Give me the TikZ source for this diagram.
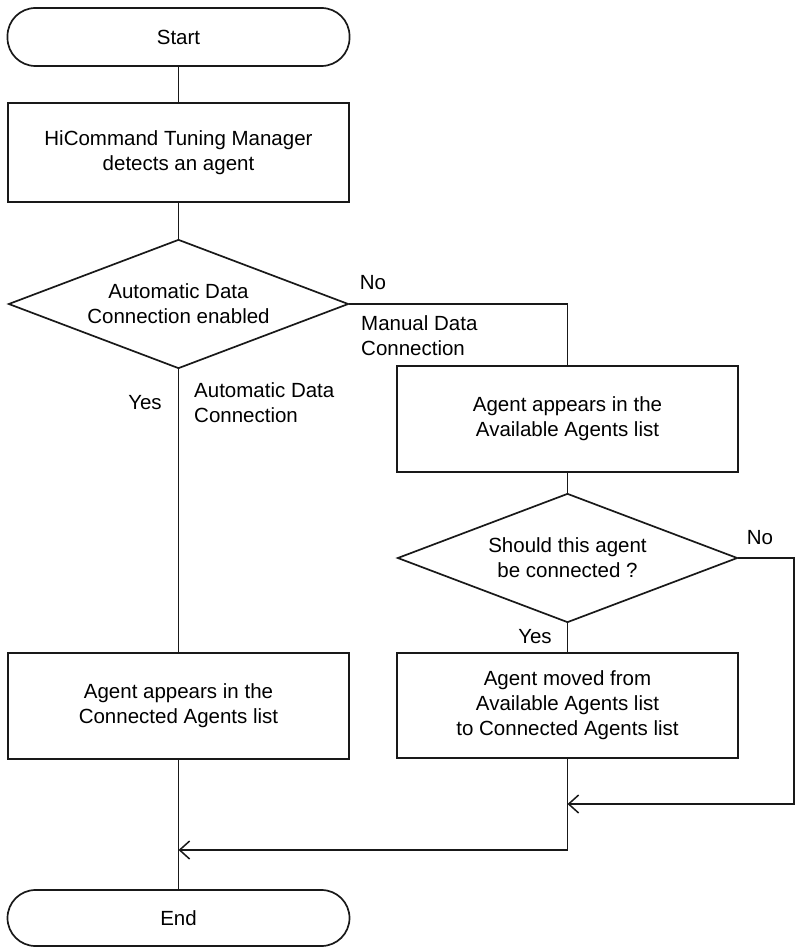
\documentclass[tikz,border=0pt]{standalone}
\usepackage{fontspec}
\setmainfont{Liberation Sans}
\usetikzlibrary{shapes.geometric,arrows.meta}
\begin{document}
\begin{tikzpicture}[x=1pt,y=-1pt,
  every node/.style={font=\fontsize{20.5}{25}\selectfont, inner sep=0pt},
  line/.style={draw=black!90, line width=1.7pt},
  arr/.style={line, -{Straight Barb[length=10pt,width=18pt,line width=1.5pt]}},
  procbox/.style={line, rectangle, minimum width=341pt, align=center},
  term/.style={line, rectangle, rounded corners=28pt, minimum width=342pt, align=center},
  decision/.style={line, diamond, aspect=2.6, minimum width=340pt, minimum height=129pt, align=center},
  lbl/.style={align=left}]
\useasboundingbox (0,0) rectangle (796,947);
\node[term, minimum height=58pt] (start) at (178.5,37) {Start};
\node[procbox, minimum height=99pt] (box1) at (178.5,152.5) {HiCommand Tuning Manager\\detects an agent};
\node[decision] (d1) at (178.5,304) {Automatic Data\\Connection enabled};
\node[procbox, minimum height=106pt] (box2) at (567.5,419) {Agent appears in the\\Available Agents list};
\node[decision] (d2) at (567.5,558) {Should this agent\\be connected ?};
\node[procbox, minimum height=105pt] (box4) at (567.5,705.5) {Agent moved from\\Available Agents list\\to Connected Agents list};
\node[procbox, minimum height=106pt] (box3) at (178.5,706) {Agent appears in the\\Connected Agents list};
\node[term, minimum height=56pt] (end) at (178.5,918) {End};

\node (no1) at (373,283) {No};
\node[lbl, anchor=west] (man) at (361,335.5) {Manual Data\\Connection};
\node (yes1) at (145,403) {Yes};
\node[lbl, anchor=west] (auto) at (194,402.5) {Automatic Data\\Connection};
\node (no2) at (760,538) {No};
\node (yes2) at (535,637) {Yes};

\coordinate (rc) at (794,804);
\coordinate (j1) at (567.5,804);
\coordinate (j2) at (178.5,850);

\draw[line] (start.south) -- (box1.north);
\draw[line] (box1.south) -- (d1.north);
\draw[line] (d1.east) -| (box2.north);
\draw[line] (d1.south) -- (box3.north);
\draw[line] (box2.south) -- (d2.north);
\draw[line] (d2.south) -- (box4.north);
\draw[arr] (d2.east) -| (rc) -- (j1);
\draw[arr] (box4.south) |- (j2);
\draw[line] (box3.south) -- (end.north);
\end{tikzpicture}
\end{document}
